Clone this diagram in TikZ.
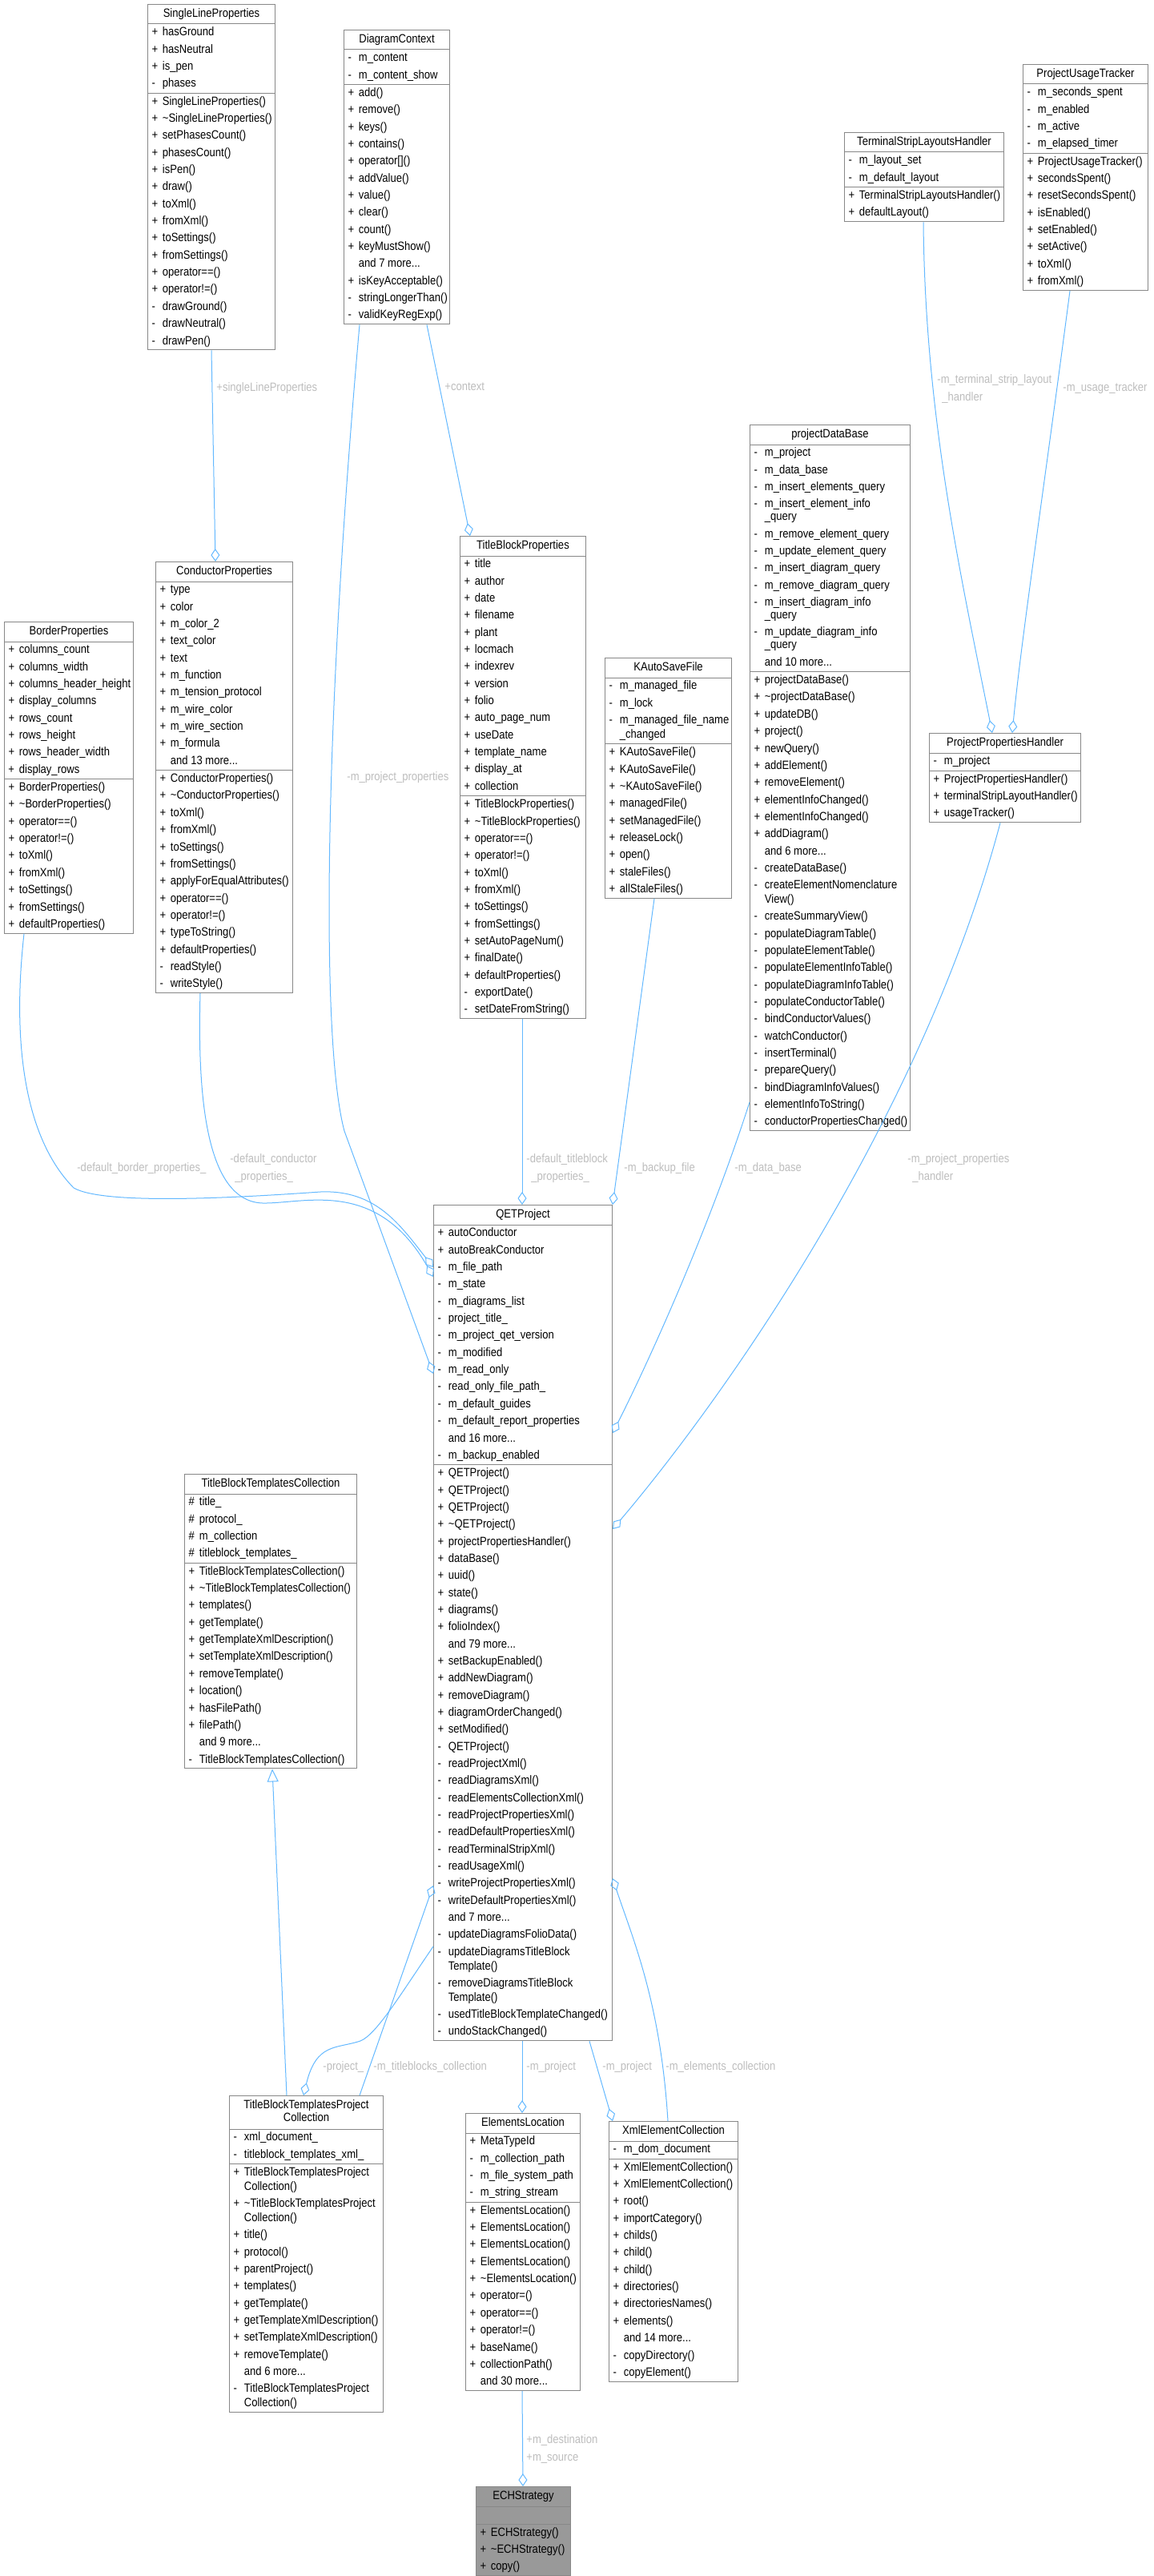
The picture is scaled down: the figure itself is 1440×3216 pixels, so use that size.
\documentclass[tikz,border=0pt]{standalone}
\usepackage{fontspec}
\setmainfont[FakeStretch=0.87]{Liberation Sans}
\usetikzlibrary{arrows.meta,calc}
\definecolor{bx}{HTML}{888888}
\definecolor{eb}{HTML}{63B8FF}
\definecolor{lg}{HTML}{BDBDBD}
\newcommand\Rw[2]{\hbox to\hsize{\vrule height7.2pt depth3.47pt width0pt\hspace{2.5pt}\makebox[6.7pt][l]{#1}#2\hss}}
\newcommand\Cw[1]{\hbox to\hsize{\vrule height4.53pt depth3.47pt width0pt\hspace{9.2pt}#1\hss}}
\newcommand\Tw[1]{\hbox to\hsize{\vrule height8.2pt depth3.8pt width0pt\hss#1\hss}}
\newcommand\Klass[4]{\vbox{\offinterlineskip\hsize=#1\relax#2{\color{bx}\hrule height.5pt}#3{\color{bx}\hrule height.5pt}#4}}
\newcommand\tl{\textasciitilde}
\begin{document}
\begin{tikzpicture}[x=0.5pt,y=-0.5pt,
  cls/.style={draw=bx,line width=0.5pt,inner sep=0pt,anchor=north west,fill=white,font=\fontsize{7.5}{10}\selectfont},
  e/.style={draw=eb,line width=0.5pt,-{Diamond[open,length=8pt,width=5.5pt]}},
  g/.style={draw=eb,line width=0.5pt,-{Triangle[open,length=8pt,width=7pt]}},
  lb/.style={text=lg,inner sep=0pt,anchor=north west,align=left,font=\fontsize{7.5}{11}\selectfont}]
\useasboundingbox (0,0) rectangle (1440,3216);

\node[cls] (slp) at (184,5) {\Klass{79.5pt}{\Tw{SingleLineProperties}}
{\Rw{+}{hasGround}\Rw{+}{hasNeutral}\Rw{+}{is\_pen}\Rw{-}{phases}}
{\Rw{+}{SingleLineProperties()}\Rw{+}{\tl SingleLineProperties()}\Rw{+}{setPhasesCount()}\Rw{+}{phasesCount()}\Rw{+}{isPen()}\Rw{+}{draw()}\Rw{+}{toXml()}\Rw{+}{fromXml()}\Rw{+}{toSettings()}\Rw{+}{fromSettings()}\Rw{+}{operator==()}\Rw{+}{operator!=()}\Rw{-}{drawGround()}\Rw{-}{drawNeutral()}\Rw{-}{drawPen()}}};

\node[cls] (dc) at (429,37) {\Klass{66pt}{\Tw{DiagramContext}}
{\Rw{-}{m\_content}\Rw{-}{m\_content\_show}}
{\Rw{+}{add()}\Rw{+}{remove()}\Rw{+}{keys()}\Rw{+}{contains()}\Rw{+}{operator[]()}\Rw{+}{addValue()}\Rw{+}{value()}\Rw{+}{clear()}\Rw{+}{count()}\Rw{+}{keyMustShow()}\Rw{}{and 7 more...}\Rw{+}{isKeyAcceptable()}\Rw{-}{stringLongerThan()}\Rw{-}{validKeyRegExp()}}};

\node[cls] (tslh) at (1054,165) {\Klass{99.5pt}{\Tw{TerminalStripLayoutsHandler}}
{\Rw{-}{m\_layout\_set}\Rw{-}{m\_default\_layout}}
{\Rw{+}{TerminalStripLayoutsHandler()}\Rw{+}{defaultLayout()}}};

\node[cls] (put) at (1277,80) {\Klass{78pt}{\Tw{ProjectUsageTracker}}
{\Rw{-}{m\_seconds\_spent}\Rw{-}{m\_enabled}\Rw{-}{m\_active}\Rw{-}{m\_elapsed\_timer}}
{\Rw{+}{ProjectUsageTracker()}\Rw{+}{secondsSpent()}\Rw{+}{resetSecondsSpent()}\Rw{+}{isEnabled()}\Rw{+}{setEnabled()}\Rw{+}{setActive()}\Rw{+}{toXml()}\Rw{+}{fromXml()}}};

\node[cls] (pdb) at (936,530) {\Klass{100pt}{\Tw{projectDataBase}}
{\Rw{-}{m\_project}\Rw{-}{m\_data\_base}\Rw{-}{m\_insert\_elements\_query}\Rw{-}{m\_insert\_element\_info}\Cw{\_query}\Rw{-}{m\_remove\_element\_query}\Rw{-}{m\_update\_element\_query}\Rw{-}{m\_insert\_diagram\_query}\Rw{-}{m\_remove\_diagram\_query}\Rw{-}{m\_insert\_diagram\_info}\Cw{\_query}\Rw{-}{m\_update\_diagram\_info}\Cw{\_query}\Rw{}{and 10 more...}}
{\Rw{+}{projectDataBase()}\Rw{+}{\tl projectDataBase()}\Rw{+}{updateDB()}\Rw{+}{project()}\Rw{+}{newQuery()}\Rw{+}{addElement()}\Rw{+}{removeElement()}\Rw{+}{elementInfoChanged()}\Rw{+}{elementInfoChanged()}\Rw{+}{addDiagram()}\Rw{}{and 6 more...}\Rw{-}{createDataBase()}\Rw{-}{createElementNomenclature}\Cw{View()}\Rw{-}{createSummaryView()}\Rw{-}{populateDiagramTable()}\Rw{-}{populateElementTable()}\Rw{-}{populateElementInfoTable()}\Rw{-}{populateDiagramInfoTable()}\Rw{-}{populateConductorTable()}\Rw{-}{bindConductorValues()}\Rw{-}{watchConductor()}\Rw{-}{insertTerminal()}\Rw{-}{prepareQuery()}\Rw{-}{bindDiagramInfoValues()}\Rw{-}{elementInfoToString()}\Rw{-}{conductorPropertiesChanged()}}};

\node[cls] (cp) at (194,701) {\Klass{85.5pt}{\Tw{ConductorProperties}}
{\Rw{+}{type}\Rw{+}{color}\Rw{+}{m\_color\_2}\Rw{+}{text\_color}\Rw{+}{text}\Rw{+}{m\_function}\Rw{+}{m\_tension\_protocol}\Rw{+}{m\_wire\_color}\Rw{+}{m\_wire\_section}\Rw{+}{m\_formula}\Rw{}{and 13 more...}}
{\Rw{+}{ConductorProperties()}\Rw{+}{\tl ConductorProperties()}\Rw{+}{toXml()}\Rw{+}{fromXml()}\Rw{+}{toSettings()}\Rw{+}{fromSettings()}\Rw{+}{applyForEqualAttributes()}\Rw{+}{operator==()}\Rw{+}{operator!=()}\Rw{+}{typeToString()}\Rw{+}{defaultProperties()}\Rw{-}{readStyle()}\Rw{-}{writeStyle()}}};

\node[cls] (bp) at (5,776) {\Klass{80.5pt}{\Tw{BorderProperties}}
{\Rw{+}{columns\_count}\Rw{+}{columns\_width}\Rw{+}{columns\_header\_height}\Rw{+}{display\_columns}\Rw{+}{rows\_count}\Rw{+}{rows\_height}\Rw{+}{rows\_header\_width}\Rw{+}{display\_rows}}
{\Rw{+}{BorderProperties()}\Rw{+}{\tl BorderProperties()}\Rw{+}{operator==()}\Rw{+}{operator!=()}\Rw{+}{toXml()}\Rw{+}{fromXml()}\Rw{+}{toSettings()}\Rw{+}{fromSettings()}\Rw{+}{defaultProperties()}}};

\node[cls] (tbp) at (574,669) {\Klass{78.5pt}{\Tw{TitleBlockProperties}}
{\Rw{+}{title}\Rw{+}{author}\Rw{+}{date}\Rw{+}{filename}\Rw{+}{plant}\Rw{+}{locmach}\Rw{+}{indexrev}\Rw{+}{version}\Rw{+}{folio}\Rw{+}{auto\_page\_num}\Rw{+}{useDate}\Rw{+}{template\_name}\Rw{+}{display\_at}\Rw{+}{collection}}
{\Rw{+}{TitleBlockProperties()}\Rw{+}{\tl TitleBlockProperties()}\Rw{+}{operator==()}\Rw{+}{operator!=()}\Rw{+}{toXml()}\Rw{+}{fromXml()}\Rw{+}{toSettings()}\Rw{+}{fromSettings()}\Rw{+}{setAutoPageNum()}\Rw{+}{finalDate()}\Rw{+}{defaultProperties()}\Rw{-}{exportDate()}\Rw{-}{setDateFromString()}}};

\node[cls] (kas) at (755,821) {\Klass{79pt}{\Tw{KAutoSaveFile}}
{\Rw{-}{m\_managed\_file}\Rw{-}{m\_lock}\Rw{-}{m\_managed\_file\_name}\Cw{\_changed}}
{\Rw{+}{KAutoSaveFile()}\Rw{+}{KAutoSaveFile()}\Rw{+}{\tl KAutoSaveFile()}\Rw{+}{managedFile()}\Rw{+}{setManagedFile()}\Rw{+}{releaseLock()}\Rw{+}{open()}\Rw{+}{staleFiles()}\Rw{+}{allStaleFiles()}}};

\node[cls] (pph) at (1160,915) {\Klass{94.5pt}{\Tw{ProjectPropertiesHandler}}
{\Rw{-}{m\_project}}
{\Rw{+}{ProjectPropertiesHandler()}\Rw{+}{terminalStripLayoutHandler()}\Rw{+}{usageTracker()}}};

\node[cls] (qet) at (541,1504) {\Klass{111.5pt}{\Tw{QETProject}}
{\Rw{+}{autoConductor}\Rw{+}{autoBreakConductor}\Rw{-}{m\_file\_path}\Rw{-}{m\_state}\Rw{-}{m\_diagrams\_list}\Rw{-}{project\_title\_}\Rw{-}{m\_project\_qet\_version}\Rw{-}{m\_modified}\Rw{-}{m\_read\_only}\Rw{-}{read\_only\_file\_path\_}\Rw{-}{m\_default\_guides}\Rw{-}{m\_default\_report\_properties}\Rw{}{and 16 more...}\Rw{-}{m\_backup\_enabled}}
{\Rw{+}{QETProject()}\Rw{+}{QETProject()}\Rw{+}{QETProject()}\Rw{+}{\tl QETProject()}\Rw{+}{projectPropertiesHandler()}\Rw{+}{dataBase()}\Rw{+}{uuid()}\Rw{+}{state()}\Rw{+}{diagrams()}\Rw{+}{folioIndex()}\Rw{}{and 79 more...}\Rw{+}{setBackupEnabled()}\Rw{+}{addNewDiagram()}\Rw{+}{removeDiagram()}\Rw{+}{diagramOrderChanged()}\Rw{+}{setModified()}\Rw{-}{QETProject()}\Rw{-}{readProjectXml()}\Rw{-}{readDiagramsXml()}\Rw{-}{readElementsCollectionXml()}\Rw{-}{readProjectPropertiesXml()}\Rw{-}{readDefaultPropertiesXml()}\Rw{-}{readTerminalStripXml()}\Rw{-}{readUsageXml()}\Rw{-}{writeProjectPropertiesXml()}\Rw{-}{writeDefaultPropertiesXml()}\Rw{}{and 7 more...}\Rw{-}{updateDiagramsFolioData()}\Rw{-}{updateDiagramsTitleBlock}\Cw{Template()}\Rw{-}{removeDiagramsTitleBlock}\Cw{Template()}\Rw{-}{usedTitleBlockTemplateChanged()}\Rw{-}{undoStackChanged()}}};

\node[cls] (tbtc) at (230,1840) {\Klass{107.5pt}{\Tw{TitleBlockTemplatesCollection}}
{\Rw{\#}{title\_}\Rw{\#}{protocol\_}\Rw{\#}{m\_collection}\Rw{\#}{titleblock\_templates\_}}
{\Rw{+}{TitleBlockTemplatesCollection()}\Rw{+}{\tl TitleBlockTemplatesCollection()}\Rw{+}{templates()}\Rw{+}{getTemplate()}\Rw{+}{getTemplateXmlDescription()}\Rw{+}{setTemplateXmlDescription()}\Rw{+}{removeTemplate()}\Rw{+}{location()}\Rw{+}{hasFilePath()}\Rw{+}{filePath()}\Rw{}{and 9 more...}\Rw{-}{TitleBlockTemplatesCollection()}}};

\node[cls] (tbtpc) at (286,2616) {\Klass{96pt}{\hbox to\hsize{\vrule height8pt depth2.5pt width0pt\hss TitleBlockTemplatesProject\hss}\hbox to\hsize{\vrule height5.5pt depth4.5pt width0pt\hss Collection\hss}}
{\Rw{-}{xml\_document\_}\Rw{-}{titleblock\_templates\_xml\_}}
{\Rw{+}{TitleBlockTemplatesProject}\Cw{Collection()}\Rw{+}{\tl TitleBlockTemplatesProject}\Cw{Collection()}\Rw{+}{title()}\Rw{+}{protocol()}\Rw{+}{parentProject()}\Rw{+}{templates()}\Rw{+}{getTemplate()}\Rw{+}{getTemplateXmlDescription()}\Rw{+}{setTemplateXmlDescription()}\Rw{+}{removeTemplate()}\Rw{}{and 6 more...}\Rw{-}{TitleBlockTemplatesProject}\Cw{Collection()}}};

\node[cls] (el) at (581,2638) {\Klass{71.5pt}{\Tw{ElementsLocation}}
{\Rw{+}{MetaTypeId}\Rw{-}{m\_collection\_path}\Rw{-}{m\_file\_system\_path}\Rw{-}{m\_string\_stream}}
{\Rw{+}{ElementsLocation()}\Rw{+}{ElementsLocation()}\Rw{+}{ElementsLocation()}\Rw{+}{ElementsLocation()}\Rw{+}{\tl ElementsLocation()}\Rw{+}{operator=()}\Rw{+}{operator==()}\Rw{+}{operator!=()}\Rw{+}{baseName()}\Rw{+}{collectionPath()}\Rw{}{and 30 more...}}};

\node[cls] (xec) at (760,2648) {\Klass{80.5pt}{\Tw{XmlElementCollection}}
{\Rw{-}{m\_dom\_document}}
{\Rw{+}{XmlElementCollection()}\Rw{+}{XmlElementCollection()}\Rw{+}{root()}\Rw{+}{importCategory()}\Rw{+}{childs()}\Rw{+}{child()}\Rw{+}{child()}\Rw{+}{directories()}\Rw{+}{directoriesNames()}\Rw{+}{elements()}\Rw{}{and 14 more...}\Rw{-}{copyDirectory()}\Rw{-}{copyElement()}}};

\node[cls,fill={rgb,255:red,153;green,153;blue,153}] (ech) at (594,3104) {\Klass{59pt}{\Tw{ECHStrategy}}
{\Rw{}{}}
{\Rw{+}{ECHStrategy()}\Rw{+}{\tl ECHStrategy()}\Rw{+}{copy()}}};

% connectors
\draw[e] ($(slp.south west)+(80,0)$) -- ($(cp.north west)+(75,0)$);
\draw[e] ($(dc.south west)+(20,0)$) .. controls (405,900) and (400,1300) .. (430,1412) -- ($(qet.north west)+(0,211)$);
\draw[e] ($(dc.south west)+(104,0)$) -- ($(tbp.north west)+(13,0)$);
\draw[e] ($(tslh.south west)+(99,0)$) .. controls (1155,520) and (1200,720) .. ($(pph.north west)+(79,0)$);
\draw[e] ($(put.south west)+(59,0)$) .. controls (1305,600) and (1275,800) .. ($(pph.north west)+(104,0)$);
\draw[e] ($(bp.south west)+(25,0)$) .. controls (15,1300) and (30,1420) .. (92,1483) .. controls (130,1505) and (300,1495) .. (400,1488) .. controls (470,1485) and (500,1530) .. ($(qet.north west)+(0,78)$);
\draw[e] ($(cp.south west)+(56,0)$) .. controls (246,1380) and (260,1500) .. (328,1502) .. controls (380,1503) and (470,1470) .. ($(qet.north west)+(0,90)$);
\draw[e] ($(tbp.south west)+(78,0)$) -- ($(qet.north west)+(111,0)$);
\draw[e] ($(kas.south west)+(62,0)$) -- (qet.north east);
\draw[e] ($(pdb.north west)+(0,846)$) .. controls (880,1550) and (800,1720) .. ($(qet.north east)+(0,285)$);
\draw[e] ($(pph.south west)+(89,0)$) .. controls (1150,1400) and (900,1750) .. ($(qet.north east)+(0,405)$);
\draw[g] ($(tbtpc.north west)+(72,0)$) -- ($(tbtc.south west)+(110,0)$);
\draw[e] ($(qet.north west)+(0,926)$) .. controls (500,2490) and (470,2540) .. (450,2548) .. controls (420,2558) and (395,2550) .. ($(tbtpc.north west)+(93,0)$);
\draw[e] ($(tbtpc.north west)+(163,0)$) -- ($(qet.north west)+(0,850)$);
\draw[e] ($(qet.south west)+(111,0)$) -- ($(el.north west)+(71,0)$);
\draw[e] ($(qet.south west)+(195,0)$) -- ($(xec.north west)+(5,0)$);
\draw[e] ($(xec.north west)+(74,0)$) .. controls (825,2500) and (790,2420) .. ($(qet.north east)+(0,841)$);
\draw[e] ($(el.south west)+(71,0)$) -- ($(ech.north west)+(59,0)$);

% labels
\node[lb] (l1) at (270,477) {+singleLineProperties};
\node[lb] (l2) at (555,477) {+context};
\node[lb] (l3) at (1170,467) {-m\_terminal\_strip\_layout\\\hspace{3pt}\_handler};
\node[lb] (l4) at (1327,477) {-m\_usage\_tracker};
\node[lb] (l5) at (433,963) {-m\_project\_properties};
\node[lb] (l6) at (96,1451) {-default\_border\_properties\_};
\node[lb] (l7) at (287,1440) {-default\_conductor\\\hspace{3pt}\_properties\_};
\node[lb] (l8) at (657,1440) {-default\_titleblock\\\hspace{3pt}\_properties\_};
\node[lb] (l9) at (779,1451) {-m\_backup\_file};
\node[lb] (l10) at (917,1451) {-m\_data\_base};
\node[lb] (l11) at (1133,1440) {-m\_project\_properties\\\hspace{3pt}\_handler};
\node[lb] (l12) at (403,2573) {-project\_};
\node[lb] (l13) at (466,2573) {-m\_titleblocks\_collection};
\node[lb] (l14) at (657,2573) {-m\_project};
\node[lb] (l15) at (752,2573) {-m\_project};
\node[lb] (l16) at (831,2573) {-m\_elements\_collection};
\node[lb] (l17) at (657,3039) {+m\_destination\\+m\_source};
\end{tikzpicture}
\end{document}
